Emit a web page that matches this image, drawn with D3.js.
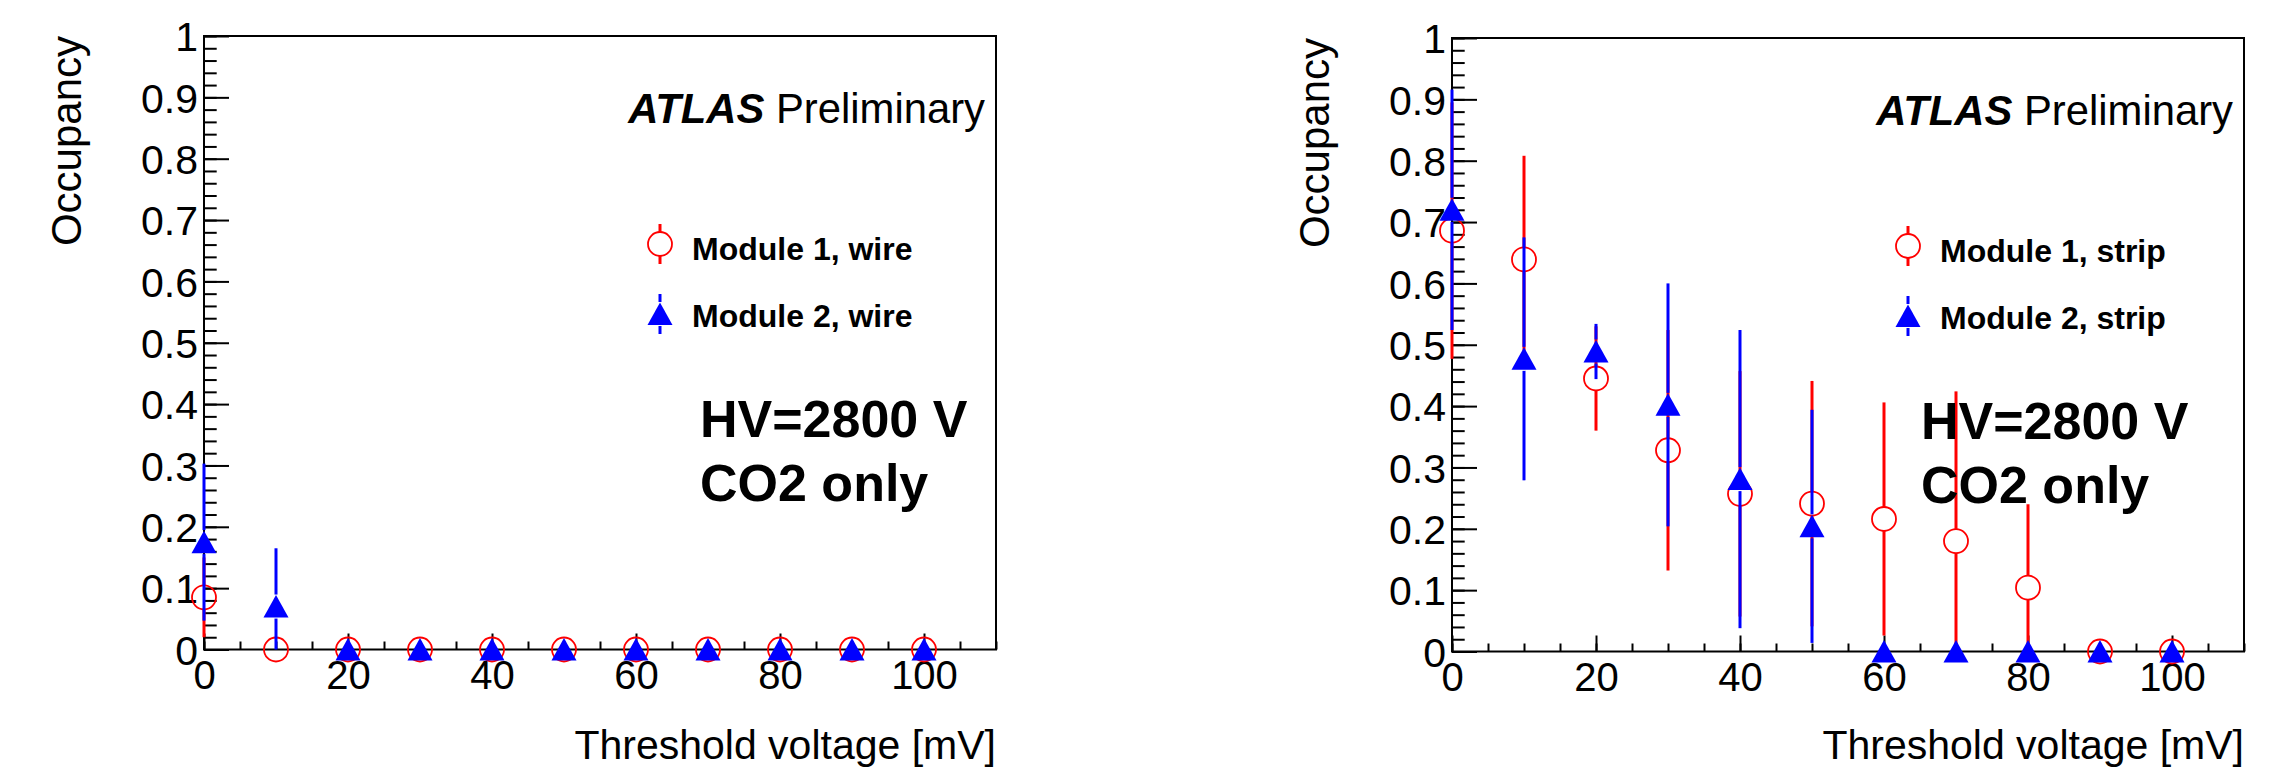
<!DOCTYPE html>
<html lang="en">
<head>
    <meta charset="UTF-8">
    <title>Occupancy vs threshold</title>
    <script src="https://cdnjs.cloudflare.com/ajax/libs/d3/7.8.2/d3.min.js"></script>
    <style>
        body{ margin: 0; background: white; }
        svg{ display: block; background-color: white; }
        text{ font-family: 'Liberation Sans', Arial, Helvetica, sans-serif; }
    </style>
</head>
<body>
    <div class="container"></div>
    <script>
        // values
        const thresholds = [0, 10, 20, 30, 40, 50, 60, 70, 80, 90, 100];

        const wireModule1    = [0.085, 0, 0, 0, 0, 0, 0, 0, 0, 0, 0];
        const wireModule1Err = [0.065, 0, 0, 0, 0, 0, 0, 0, 0, 0, 0];
        const wireModule2    = [0.175, 0.07, 0, 0, 0, 0, 0, 0, 0, 0, 0];
        const wireModule2Err = [0.128, 0.095, 0, 0, 0, 0, 0, 0, 0, 0, 0];

        const stripModule1    = [0.686, 0.639, 0.445, 0.328, 0.257, 0.241, 0.216, 0.18, 0.104, 0, 0];
        const stripModule1Err = [0.209, 0.169, 0.085, 0.196, 0.2, 0.2, 0.19, 0.244, 0.136, 0, 0];
        const stripModule2    = [0.72, 0.477, 0.489, 0.402, 0.281, 0.204, 0, 0, 0, 0, 0];
        const stripModule2Err = [0.196, 0.198, 0.045, 0.198, 0.243, 0.19, 0, 0, 0, 0, 0];

        const xTicks = [0, 20, 40, 60, 80, 100];
        const yTicks = [0, 0.1, 0.2, 0.3, 0.4, 0.5, 0.6, 0.7, 0.8, 0.9, 1];
        const xDomain = [0, 110];
        const yDomain = [0, 1];

        const xTitle = 'Threshold voltage [mV]';
        const yTitle = 'Occupancy';
        const hvLines = ['HV=2800 V', 'CO2 only'];

        let width = 2288;
        let height = 771;
        let gap = 12;

        let svg = d3.select('.container').append('svg')
                    .attr('width', width).attr('height', height);

        const panels = [
            {
                left: 204, right: 996, top: 36, bottom: 649.5, hvX: 700,
                series: [
                    {values: wireModule1, errors: wireModule1Err, color: '#ff0000', marker: 'circle', label: 'Module 1, wire'},
                    {values: wireModule2, errors: wireModule2Err, color: '#0000ff', marker: 'triangle', label: 'Module 2, wire'}
                ]
            },
            {
                left: 1452, right: 2244, top: 38, bottom: 651.5, hvX: 1921,
                series: [
                    {values: stripModule1, errors: stripModule1Err, color: '#ff0000', marker: 'circle', label: 'Module 1, strip'},
                    {values: stripModule2, errors: stripModule2Err, color: '#0000ff', marker: 'triangle', label: 'Module 2, strip'}
                ]
            }
        ];

        const drawMarker = (g, type, cx, cy, color) => {
            if (type === 'circle') {
                g.append('circle').attr('cx', cx).attr('cy', cy).attr('r', 12)
                 .attr('fill', 'none').attr('stroke', color).attr('stroke-width', 1.8);
            } else {
                g.append('path')
                 .attr('d', `M${cx},${cy - 11.5} L${cx + 12.5},${cy + 11} L${cx - 12.5},${cy + 11} Z`)
                 .attr('fill', color);
            }
        }

        const drawBar = (g, cx, cy, yTop, yBot, color) => {
            if (yTop < cy - gap) {
                g.append('line').attr('x1', cx).attr('x2', cx).attr('y1', cy - gap).attr('y2', yTop)
                 .attr('stroke', color).attr('stroke-width', 3);
            }
            if (yBot > cy + gap) {
                g.append('line').attr('x1', cx).attr('x2', cx).attr('y1', cy + gap).attr('y2', yBot)
                 .attr('stroke', color).attr('stroke-width', 3);
            }
        }

        const styleAxis = (sel) => {
            sel.select('.domain').remove();
            sel.selectAll('.tick line').attr('stroke', 'black').attr('stroke-width', 2);
            sel.selectAll('.tick text').attr('font-family', "'Liberation Sans', Arial, sans-serif")
               .attr('font-size', 41).attr('fill', 'black');
        }

        const drawPanel = (p) => {
            let g = svg.append('g');

            let xScale = d3.scaleLinear().domain(xDomain).range([p.left, p.right]);
            let yScale = d3.scaleLinear().domain(yDomain).range([p.bottom, p.top]);

            let yMinor = d3.range(0, 51).map(i => i / 50);
            let xMinor = d3.range(0, 23).map(i => i * 5);

            // y axis, ticks pointing into the frame
            g.append('g').attr('transform', `translate(${p.left},0)`)
             .call(d3.axisLeft(yScale).tickValues(yMinor).tickSizeInner(-12.7).tickSizeOuter(0).tickFormat(''))
             .call(styleAxis);
            g.append('g').attr('transform', `translate(${p.left},0)`)
             .call(d3.axisLeft(yScale).tickValues(yTicks).tickSizeInner(-25).tickSizeOuter(0)
                   .tickPadding(6).tickFormat(d3.format('.1~f')))
             .call(styleAxis)
             .selectAll('.tick text').attr('dy', '0.36em');

            // x axis
            g.append('g').attr('transform', `translate(0,${p.bottom})`)
             .call(d3.axisBottom(xScale).tickValues(xMinor).tickSizeInner(-8).tickSizeOuter(0).tickFormat(''))
             .call(styleAxis);
            g.append('g').attr('transform', `translate(0,${p.bottom})`)
             .call(d3.axisBottom(xScale).tickValues(xTicks).tickSizeInner(-16).tickSizeOuter(0).tickPadding(11))
             .call(styleAxis)
             .selectAll('.tick text').attr('font-size', 40);

            // frame
            g.append('rect').attr('x', p.left).attr('y', p.top)
             .attr('width', p.right - p.left).attr('height', p.bottom - p.top)
             .attr('fill', 'none').attr('stroke', 'black').attr('stroke-width', 2);

            // axis titles
            g.append('text').attr('x', p.right).attr('y', 759).attr('text-anchor', 'end')
             .attr('font-size', 41).text(xTitle);
            g.append('text').attr('transform', `translate(${p.left - 123},${p.top}) rotate(-90)`)
             .attr('text-anchor', 'end').attr('font-size', 42).text(yTitle);

            // data: error bars then markers, series by series
            p.series.forEach(s => {
                let sg = g.append('g');
                thresholds.forEach((t, i) => {
                    let cx = xScale(t);
                    let cy = yScale(s.values[i]);
                    if (s.errors[i] > 0) {
                        let top = yScale(Math.min(yDomain[1], s.values[i] + s.errors[i]));
                        let bot = yScale(Math.max(yDomain[0], s.values[i] - s.errors[i]));
                        drawBar(sg, cx, cy, top, bot, s.color);
                    }
                });
                thresholds.forEach((t, i) => {
                    drawMarker(sg, s.marker, xScale(t), yScale(s.values[i]), s.color);
                });
            });

            // ATLAS label
            let atlas = g.append('text').attr('x', p.right - 11).attr('y', p.top + 87)
                         .attr('text-anchor', 'end').attr('font-size', 41.8);
            atlas.append('tspan').attr('font-weight', 'bold').attr('font-style', 'italic').text('ATLAS');
            atlas.append('tspan').text('\u00a0Preliminary');

            // legend
            p.series.forEach((s, i) => {
                let my = p.top + 208 + i * 70;
                let mx = p.left + 456;
                drawBar(g, mx, my, my - 20, my + 20, s.color);
                drawMarker(g, s.marker, mx, my, s.color);
                g.append('text').attr('x', p.left + 488).attr('y', p.top + 224 + i * 67)
                 .attr('font-size', 32).attr('font-weight', 'bold').text(s.label);
            });

            // HV text
            hvLines.forEach((line, i) => {
                g.append('text').attr('x', p.hvX).attr('y', p.top + 401 + i * 64)
                 .attr('font-size', 52).attr('font-weight', 'bold').text(line);
            });
        }

        panels.forEach(drawPanel);
    </script>
</body>
</html>
